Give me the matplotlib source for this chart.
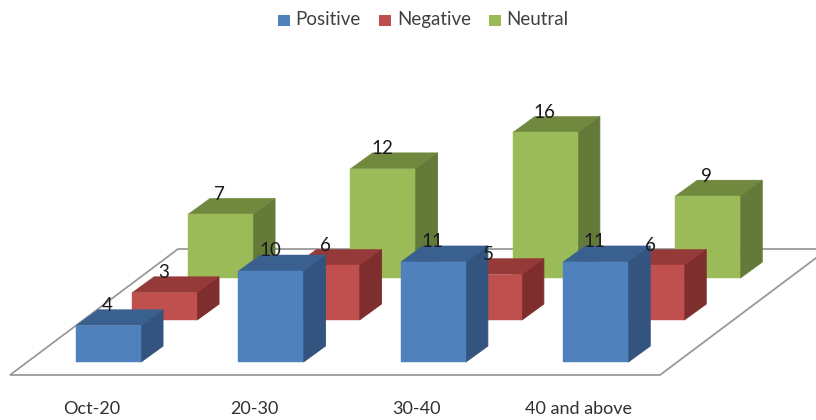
import matplotlib
matplotlib.use("Agg")
import matplotlib.pyplot as plt
from matplotlib.patches import Polygon, Rectangle

categories = ["Oct-20", "20-30", "30-40", "40 and above"]
series_names = ["Positive", "Negative", "Neutral"]
positive = [4, 10, 11, 11]
negative = [3, 6, 5, 6]
neutral = [7, 12, 16, 9]
series_values = [positive, negative, neutral]

front_colors = ["#4F81BD", "#C0504D", "#9BBB59"]
top_colors = ["#3A6090", "#953A38", "#71883F"]
side_colors = ["#32547F", "#7E2F2D", "#647A38"]

W, H = 816, 420
X_UNIT = 162.4      # pixels per category step
Y_UNIT = 9.1        # pixels per value unit
X0, Y0 = 108.5, 362 # pixel position of the first front row's base

# Oblique depth, in data units
BAR_W = 65 / X_UNIT
BAR_DX = 22 / X_UNIT
BAR_DY = 16 / Y_UNIT
ROW_DX = 56 / X_UNIT
ROW_DY = 42 / Y_UNIT

plt.rcParams["font.family"] = ["Lato", "DejaVu Sans"]
fig = plt.figure(figsize=(W / 100, H / 100), dpi=100)
ax = fig.add_axes([0, 0, 1, 1])
ax.set_xlim(-X0 / X_UNIT, (W - X0) / X_UNIT)
ax.set_ylim((Y0 - H) / Y_UNIT, Y0 / Y_UNIT)
ax.axis("off")


def px(x, y):
    """Convert a pixel position on the canvas to data units."""
    return (x - X0) / X_UNIT, (Y0 - y) / Y_UNIT


# Chart floor
floor = Polygon([px(10, 375), px(660, 375), px(828, 249), px(178, 249)],
                closed=True, facecolor="white", edgecolor="#9A9A9A",
                linewidth=1.3, zorder=1)
ax.add_patch(floor)

# Bars, back row first so nearer rows cover them
for row in [2, 1, 0]:
    values = series_values[row]
    for i, v in enumerate(values):
        x0 = i - BAR_W / 2 + row * ROW_DX
        x1 = x0 + BAR_W
        y0 = row * ROW_DY
        y1 = y0 + v
        z = 2 + (2 - row) * 3
        ax.add_patch(Polygon([(x1, y0), (x1 + BAR_DX, y0 + BAR_DY),
                              (x1 + BAR_DX, y1 + BAR_DY), (x1, y1)],
                             closed=True, facecolor=side_colors[row],
                             edgecolor=side_colors[row], linewidth=0.7,
                             zorder=z))
        ax.add_patch(Polygon([(x0, y1), (x1, y1),
                              (x1 + BAR_DX, y1 + BAR_DY),
                              (x0 + BAR_DX, y1 + BAR_DY)],
                             closed=True, facecolor=top_colors[row],
                             edgecolor=top_colors[row], linewidth=0.3,
                             zorder=z))
        ax.add_patch(Rectangle((x0, y0), BAR_W, v, facecolor=front_colors[row],
                               edgecolor=front_colors[row], linewidth=0.3,
                               zorder=z + 1))

# Value labels sit just behind the top face of each bar
for row, values in enumerate(series_values):
    for i, v in enumerate(values):
        ax.text(i + row * ROW_DX - 1 / X_UNIT, row * ROW_DY + v + 20 / Y_UNIT,
                str(v), ha="center", va="center", fontsize=13.5,
                color="#1A1A1A", zorder=20)

# Category labels
for i, label in enumerate(categories):
    x = i - 17 / X_UNIT
    ax.text(x, px(0, 414)[1], label, ha="center", va="baseline",
            fontsize=13, color="#303030", zorder=20)

# Legend
swatch_x = [278, 379, 489]
text_x = [295, 397, 506]
for name, color, sx, tx in zip(series_names, front_colors, swatch_x, text_x):
    lx, ly = px(sx, 26)
    ax.add_patch(Rectangle((lx, ly), 11.5 / X_UNIT, 11.5 / Y_UNIT,
                           facecolor=color, edgecolor="none", zorder=20))
    tx_d, ty_d = px(tx, 25)
    ax.text(tx_d, ty_d, name, ha="left", va="baseline", fontsize=13.5,
            color="#404040", zorder=20)

fig.savefig("out.png", dpi=100)
